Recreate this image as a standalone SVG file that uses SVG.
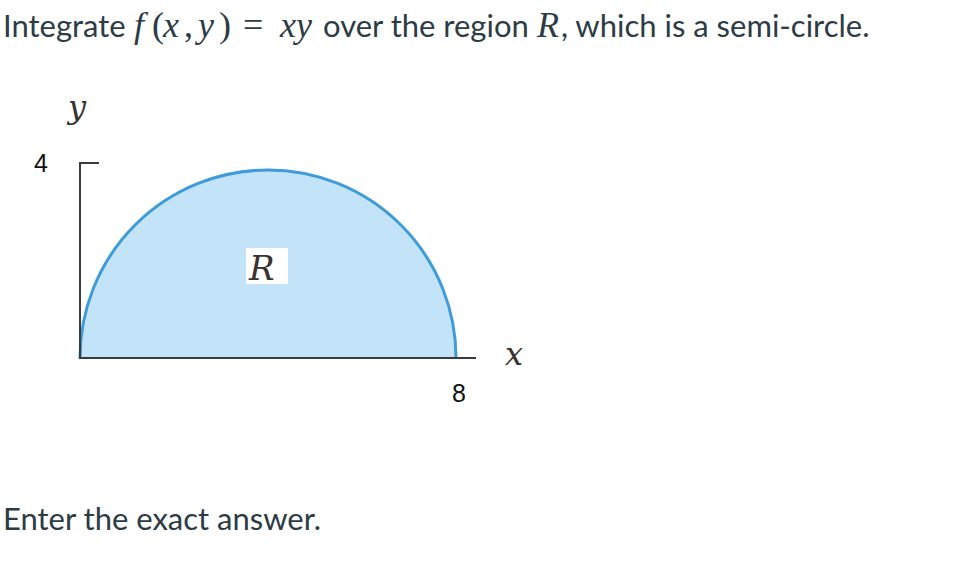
<svg xmlns="http://www.w3.org/2000/svg" width="980" height="566" viewBox="0 0 980 566">
<style>
.t{font-family:Lato,"Open Sans","Liberation Sans",sans-serif;font-size:31px;fill:#2d3b45}
.m{font-family:"Liberation Serif","DejaVu Serif",serif;font-style:italic;font-size:36px;fill:#2d3b45}
.mr{font-family:"Liberation Serif","DejaVu Serif",serif;font-size:36px;fill:#2d3b45}
.n{font-family:"Liberation Sans",Arial,sans-serif;font-size:25px;fill:#111}
.ax{stroke:#3a3a3a;stroke-width:2;fill:none}
.lab{font-family:"DejaVu Serif","Liberation Serif",serif;font-style:italic;fill:#3a3230}
</style>
<rect width="980" height="566" fill="#fff"/>
<g id="title">
<text class="t" x="3" y="37">Integrate</text>
<text class="m" x="134" y="37">f</text>
<text class="mr" x="152" y="37">(</text>
<text class="m" x="163" y="37">x</text>
<text class="mr" x="184" y="37">,</text>
<text class="m" x="198" y="37">y</text>
<text class="mr" x="219" y="37">)</text>
<text class="mr" x="243" y="37">=</text>
<text class="m" x="280" y="37">xy</text>
<text class="t" x="323" y="37">over the region</text>
<text class="m" x="537" y="37">R</text>
<text class="t" x="561" y="37">, which is a semi-circle.</text>
</g>
<g id="region">
<path d="M80,358 A188,188 0 0 1 456,358 Z" fill="#c3e4f8"/>
<path d="M80,358 A188,188 0 0 1 456,358" fill="none" stroke="#3f9cd8" stroke-width="3"/>
<rect x="246" y="248" width="42" height="36" fill="#fff"/>
<text class="lab" x="249" y="280" font-size="34">R</text>
</g>
<g id="axes">
<path class="ax" d="M80,162 V358 H476"/>
<path class="ax" d="M80,163 H99"/>
</g>
<g id="labels">
<text class="lab" x="68" y="118" font-size="32">y</text>
<text class="lab" x="505" y="365" font-size="32">x</text>
<text class="n" x="34" y="172">4</text>
<text class="n" x="452" y="402">8</text>
</g>
<g id="footer">
<text class="t" x="3" y="530" font-size="33.7">Enter the exact answer.</text>
</g>
</svg>
